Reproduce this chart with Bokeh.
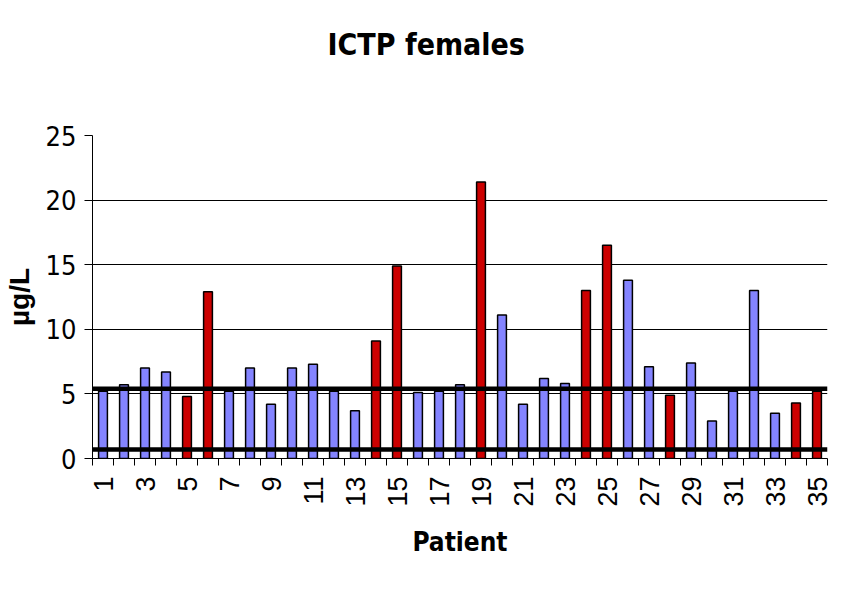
import math
from bokeh.plotting import figure
from bokeh.models import ColumnDataSource, Range1d, FixedTicker, Span, Title
from bokeh.transform import factor_cmap
from bokeh.embed import file_html
from bokeh.resources import INLINE

# ---- data ----
patients = [1, 2, 3, 4, 5, 6, 7, 8, 9, 10, 11, 12, 13, 14, 15, 16, 17, 18,
            19, 20, 21, 22, 23, 24, 25, 26, 27, 28, 29, 30, 31, 32, 33, 34, 35]
ictp = [5.2, 5.7, 7.0, 6.7, 4.8, 12.9, 5.2, 7.0, 4.2, 7.0, 7.3, 5.2, 3.7, 9.1,
        14.9, 5.1, 5.2, 5.7, 21.4, 11.1, 4.2, 6.2, 5.8, 13.0, 16.5, 13.8, 7.1,
        4.9, 7.4, 2.9, 5.2, 13.0, 3.5, 4.3, 5.2]
group = ["normal", "normal", "normal", "normal", "high", "high", "normal",
         "normal", "normal", "normal", "normal", "normal", "normal", "high",
         "high", "normal", "normal", "normal", "high", "normal", "normal",
         "normal", "normal", "high", "high", "normal", "normal", "high",
         "normal", "normal", "normal", "normal", "normal", "high", "high"]
group_names = ["normal", "high"]
group_colors = ["#8484FF", "#CC0000"]
upper_limit = 5.4
lower_limit = 0.7
y_ticks = [0, 5, 10, 15, 20, 25]
x_label_ticks = patients[::2]

NARROW = "DejaVu Sans Condensed"
SANS = "Liberation Sans"

source = ColumnDataSource(dict(patient=patients, ictp=ictp, group=group))

p = figure(width=834, height=575, output_backend="svg", toolbar_location=None,
           x_range=Range1d(patients[0] - 0.5, patients[-1] + 0.5),
           y_range=Range1d(0, 25),
           min_border_left=90, min_border_right=7, min_border_top=135,
           min_border_bottom=117)
p.outline_line_color = None
p.background_fill_color = "white"
p.border_fill_color = "white"

# spacer between plot frame and the title (first "above" panel = nearest frame)
spacer = Title(text=" ", text_font=NARROW, text_font_size="40px", standoff=21)
p.add_layout(spacer, "above")
title = Title(text="ICTP females", align="left", offset=235,
              text_font=NARROW, text_font_size="30px", text_font_style="bold",
              text_color="black", standoff=10)
p.add_layout(title, "above")

p.vbar(x="patient", top="ictp", bottom=0, width=0.42, source=source,
       fill_color=factor_cmap("group", group_colors, group_names),
       line_color="black", line_width=1.5)

for lvl in (upper_limit, lower_limit):
    p.add_layout(Span(location=lvl, dimension="width", line_color="black",
                      line_width=4.5))

# grids
p.xgrid.grid_line_color = None
p.ygrid.grid_line_color = "black"
p.ygrid.grid_line_width = 1
p.ygrid.ticker = FixedTicker(ticks=y_ticks)

# y axis
ya = p.yaxis[0]
ya.ticker = FixedTicker(ticks=y_ticks)
ya.axis_label = "µg/L"
ya.axis_label_text_font = SANS
ya.axis_label_text_font_style = "bold"
ya.axis_label_text_font_size = "28px"
ya.axis_label_text_color = "black"
ya.axis_label_standoff = 8
ya.major_label_text_font = NARROW
ya.major_label_text_font_size = "27px"
ya.major_label_text_color = "black"
ya.major_label_standoff = 8
ya.major_tick_out = 8
ya.major_tick_in = 0
ya.minor_tick_line_color = None
ya.axis_line_color = "black"
ya.major_tick_line_color = "black"

# x axis
xa = p.xaxis[0]
minor = [v - 0.5 for v in patients] + [patients[-1] + 0.5]
xa.ticker = FixedTicker(ticks=x_label_ticks, minor_ticks=minor)
xa.axis_label = "Patient"
xa.axis_label_text_font = NARROW
xa.axis_label_text_font_style = "bold"
xa.axis_label_text_font_size = "26px"
xa.axis_label_text_color = "black"
xa.axis_label_standoff = 17
xa.major_label_orientation = math.pi / 2
xa.major_label_text_font = SANS
xa.major_label_text_font_size = "27px"
xa.major_label_text_color = "black"
xa.major_label_standoff = 11
xa.major_tick_out = 0
xa.major_tick_in = 0
xa.minor_tick_out = 7
xa.minor_tick_in = 0
xa.minor_tick_line_color = "black"
xa.axis_line_color = "black"

open("out.html", "w").write(file_html(p, INLINE))
